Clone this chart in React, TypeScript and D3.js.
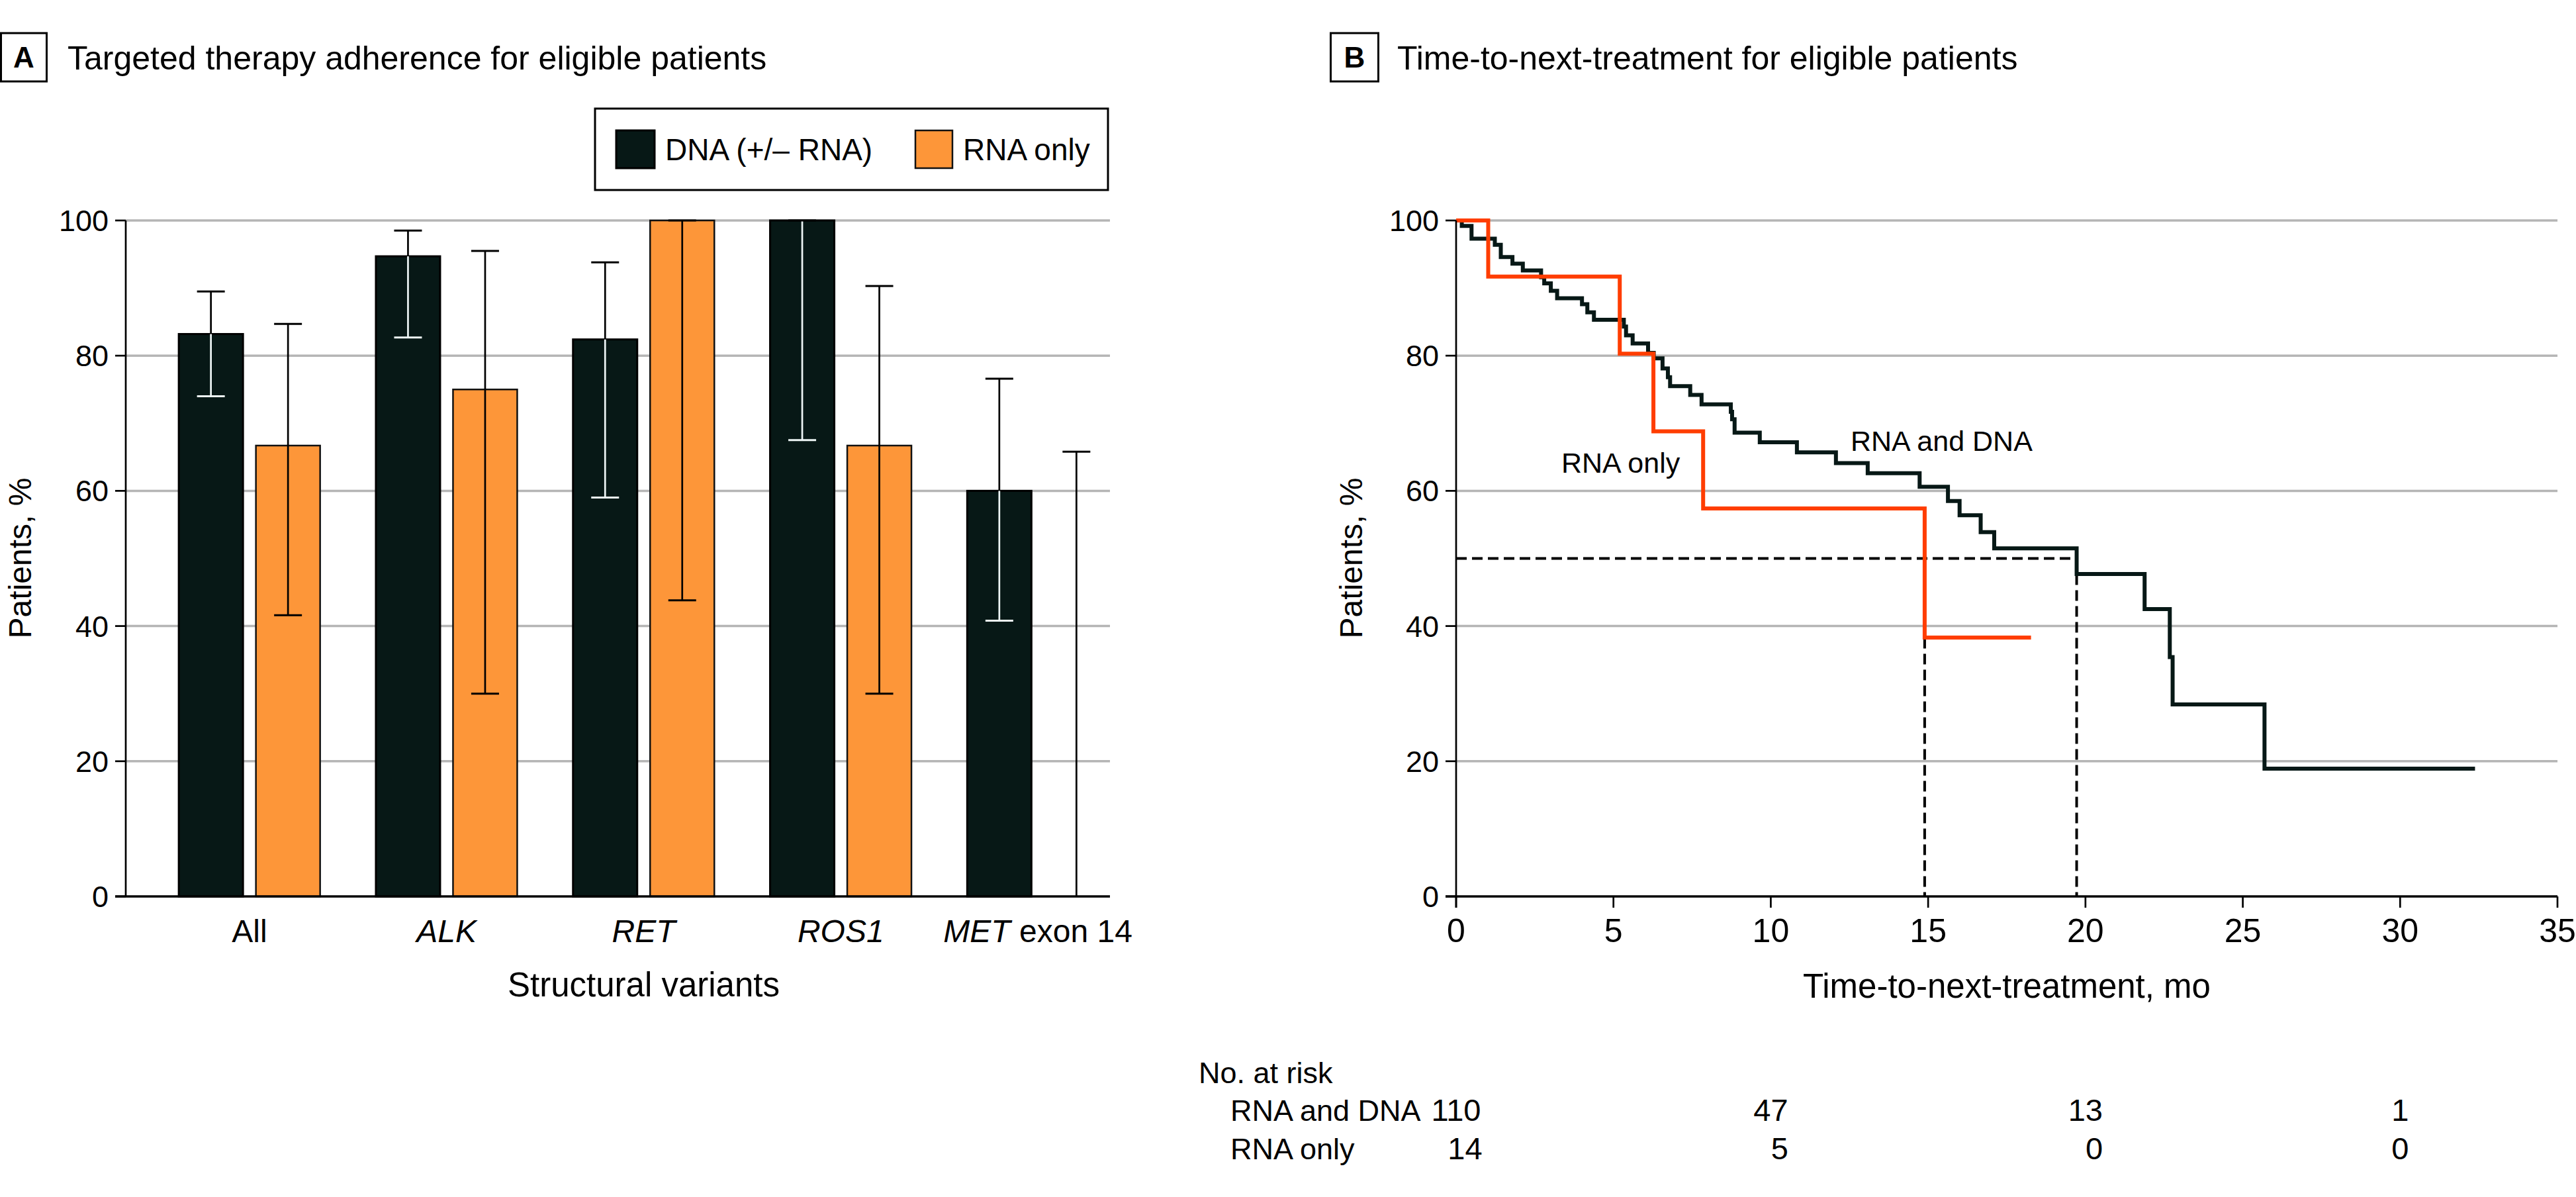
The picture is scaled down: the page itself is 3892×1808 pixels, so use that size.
import React from 'react';
import * as d3 from 'd3';

// Panel A: targeted therapy adherence
const categories = ['All', 'ALK', 'RET', 'ROS1', 'MET exon 14'];
const seriesKeys = ['dna', 'rna'];
const seriesLabels = ['DNA (+/– RNA)', 'RNA only'];
const dnaValues = [83.2, 94.7, 82.4, 100, 60.0];
const dnaLower = [74.0, 82.7, 59.0, 67.5, 40.8];
const dnaUpper = [89.5, 98.5, 93.8, 100, 76.6];
const rnaValues = [66.7, 75.0, 100, 66.7, 0];
const rnaLower = [41.6, 30.0, 43.8, 30.0, 0];
const rnaUpper = [84.7, 95.5, 100, 90.3, 65.8];
const yTicks = [0, 20, 40, 60, 80, 100];

// Panel B: time-to-next-treatment (Kaplan-Meier steps)
const rnaDnaTimes = [0, 0.18, 0.49, 1.23, 1.42, 1.79, 2.12, 2.7, 2.8, 3.01, 3.21, 4.0, 4.17, 4.38, 5.33, 5.4, 5.61, 6.1, 6.28, 6.56, 6.73, 6.8, 7.44, 7.8, 8.73, 8.77, 8.85, 9.65, 10.83, 12.07, 13.08, 14.73, 15.63, 16.0, 16.67, 17.1, 19.72, 21.88, 22.68, 22.77, 25.69];
const rnaDnaSurv = [100, 99.2, 97.3, 96.4, 94.6, 93.6, 92.6, 91.6, 90.7, 89.6, 88.5, 87.6, 86.4, 85.3, 84.3, 83.0, 81.8, 80.4, 79.6, 78.1, 76.8, 75.5, 74.2, 72.8, 71.7, 70.6, 68.6, 67.2, 65.7, 64.1, 62.6, 60.6, 58.5, 56.4, 53.9, 51.5, 47.7, 42.5, 35.4, 28.4, 18.9];
const rnaDnaEnd = 32.38;
const rnaOnlyTimes = [0, 1.02, 5.2, 6.27, 7.85, 14.89];
const rnaOnlySurv = [100, 91.7, 80.3, 68.8, 57.4, 38.3];
const rnaOnlyEnd = 18.27;
const medianRnaDna = 19.72;
const medianRnaOnly = 14.89;
const monthTicks = [0, 5, 10, 15, 20, 25, 30, 35];
const riskTimes = [0, 10, 20, 30];
const riskRnaDna = [110, 47, 13, 1];
const riskRnaOnly = [14, 5, 0, 0];

const FONT = '"Liberation Sans", Arial, "DejaVu Sans", sans-serif';
const DARK = '#071816';
const ORANGE = '#fd9639';
const RED = '#ff3d00';
const GRID = '#b5b5b5';

const italicGenes = new Set(['ALK', 'RET', 'ROS1', 'MET']);

function CategoryLabel({ text, x, y }: { text: string; x: number; y: number }) {
  const parts = text.split(' ');
  return (
    <text x={x} y={y} textAnchor="middle" fontSize={48}>
      {parts.map((p, i) => (
        <tspan key={i} fontStyle={italicGenes.has(p) ? 'italic' : 'normal'}>
          {(i > 0 ? ' ' : '') + p}
        </tspan>
      ))}
    </text>
  );
}

const App = () => {
  // ---------- panel A scales
  const yA = d3.scaleLinear().domain([0, 100]).range([1354, 333]);
  const xA = d3.scaleBand().domain(categories).range([228, 1717]);
  const inner = d3.scaleBand().domain(seriesKeys).range([-106.75, 106.75]).paddingInner(0.1674);
  const bw = inner.bandwidth();
  const axisLeftA = 190;
  const axisRightA = 1677;
  const groupCenter = (c: string) => (xA(c) as number) + xA.bandwidth() / 2;

  const barData = categories.map((c, i) => ({
    cat: c,
    items: [
      { key: 'dna', v: dnaValues[i], lo: dnaLower[i], hi: dnaUpper[i] },
      { key: 'rna', v: rnaValues[i], lo: rnaLower[i], hi: rnaUpper[i] },
    ],
  }));

  // ---------- panel B scales
  const xB = d3.scaleLinear().domain([0, 35]).range([2200, 3864]);
  const yB = d3.scaleLinear().domain([0, 100]).range([1354, 333]);
  const km = d3
    .line<[number, number]>()
    .x((d) => xB(d[0]))
    .y((d) => yB(d[1]))
    .curve(d3.curveStepAfter);
  const dnaPts: [number, number][] = rnaDnaTimes.map((t, i) => [t, rnaDnaSurv[i]]);
  dnaPts.push([rnaDnaEnd, rnaDnaSurv[rnaDnaSurv.length - 1]]);
  const rnaPts: [number, number][] = rnaOnlyTimes.map((t, i) => [t, rnaOnlySurv[i]]);
  rnaPts.push([rnaOnlyEnd, rnaOnlySurv[rnaOnlySurv.length - 1]]);

  return (
    <svg
      width={3892}
      height={1808}
      style={{ position: 'absolute', left: 0, top: 0, background: '#fff' }}
      fontFamily={FONT}
      fill="#000"
    >
      {/* ---------------- Panel A ---------------- */}
      <rect x={1.5} y={50} width={69} height={73} fill="none" stroke="#000" strokeWidth={3} />
      <text x={36} y={102} textAnchor="middle" fontSize={44} fontWeight="bold">A</text>
      <text x={102} y={105} fontSize={50}>Targeted therapy adherence for eligible patients</text>

      {/* legend */}
      <rect x={899} y={164} width={775} height={123} fill="#fff" stroke="#000" strokeWidth={3} />
      <rect x={931} y={197} width={58} height={57} fill={DARK} stroke="#000" strokeWidth={3} />
      <text x={1005} y={242} fontSize={46}>{seriesLabels[0]}</text>
      <rect x={1383} y={197} width={56} height={57} fill={ORANGE} stroke="#111" strokeWidth={2.5} />
      <text x={1455} y={242} fontSize={46}>{seriesLabels[1]}</text>

      {/* grid */}
      {yTicks.filter((t) => t > 0).map((t) => (
        <line key={t} x1={axisLeftA} x2={axisRightA} y1={yA(t)} y2={yA(t)} stroke={GRID} strokeWidth={3.5} />
      ))}

      {/* bars */}
      {barData.map((g) =>
        g.items.map((it) => {
          const x0 = groupCenter(g.cat) + (inner(it.key) as number);
          return (
            <rect
              key={g.cat + it.key}
              x={x0}
              y={yA(it.v)}
              width={bw}
              height={yA(0) - yA(it.v)}
              fill={it.key === 'dna' ? DARK : ORANGE}
              stroke={it.key === 'dna' ? '#000' : '#111'}
              strokeWidth={it.key === 'dna' ? 3 : 2.5}
            />
          );
        })
      )}

      {/* error bars */}
      {barData.map((g) =>
        g.items.map((it) => {
          const cx = groupCenter(g.cat) + (inner(it.key) as number) + bw / 2;
          const inside = it.key === 'dna' ? '#eef6f6' : '#000';
          const topSplit = Math.min(it.hi, it.v);
          return (
            <g key={'e' + g.cat + it.key}>
              {it.hi > it.v && (
                <line x1={cx} x2={cx} y1={yA(it.hi)} y2={yA(it.v)} stroke="#000" strokeWidth={2.7} />
              )}
              <line x1={cx} x2={cx} y1={yA(topSplit)} y2={yA(it.lo)} stroke={inside} strokeWidth={2.7} />
              <line x1={cx - 21} x2={cx + 21} y1={yA(it.hi)} y2={yA(it.hi)} stroke="#000" strokeWidth={3} />
              {it.lo > 0 && (
                <line
                  x1={cx - 21}
                  x2={cx + 21}
                  y1={yA(it.lo)}
                  y2={yA(it.lo)}
                  stroke={it.lo < it.v ? inside : '#000'}
                  strokeWidth={3}
                />
              )}
            </g>
          );
        })
      )}

      {/* axes A */}
      <line x1={axisLeftA} x2={axisLeftA} y1={yA(100)} y2={yA(0)} stroke="#000" strokeWidth={2.7} />
      <line x1={axisLeftA - 16} x2={axisRightA} y1={yA(0)} y2={yA(0)} stroke="#000" strokeWidth={3.5} />
      {yTicks.map((t) => (
        <g key={'ya' + t}>
          <line x1={axisLeftA - 16} x2={axisLeftA} y1={yA(t)} y2={yA(t)} stroke="#000" strokeWidth={2.7} />
          <text x={axisLeftA - 26} y={yA(t) + 16} textAnchor="end" fontSize={45}>{t}</text>
        </g>
      ))}
      {categories.map((c) => (
        <CategoryLabel key={c} text={c} x={groupCenter(c)} y={1423} />
      ))}
      <text x={groupCenter('RET')} y={1505} textAnchor="middle" fontSize={51}>
        Structural variants
      </text>
      <text transform="translate(47,843) rotate(-90)" textAnchor="middle" fontSize={48}>Patients, %</text>

      {/* ---------------- Panel B ---------------- */}
      <rect x={2010.5} y={50} width={72} height={73} fill="none" stroke="#000" strokeWidth={3} />
      <text x={2046.5} y={102} textAnchor="middle" fontSize={44} fontWeight="bold">B</text>
      <text x={2111} y={105} fontSize={50}>Time-to-next-treatment for eligible patients</text>

      {yTicks.filter((t) => t > 0).map((t) => (
        <line key={'gb' + t} x1={xB(0)} x2={xB(35)} y1={yB(t)} y2={yB(t)} stroke={GRID} strokeWidth={3.5} />
      ))}

      {/* median reference lines */}
      <g stroke="#000" strokeWidth={4} strokeDasharray="16 8" fill="none">
        <line x1={xB(0)} x2={xB(medianRnaDna)} y1={yB(50)} y2={yB(50)} />
        <line x1={xB(medianRnaOnly)} x2={xB(medianRnaOnly)} y1={yB(50)} y2={yB(0)} />
        <line x1={xB(medianRnaDna)} x2={xB(medianRnaDna)} y1={yB(50)} y2={yB(0)} />
      </g>

      {/* curves */}
      <path d={km(dnaPts) as string} fill="none" stroke={DARK} strokeWidth={6} />
      <path d={km(rnaPts) as string} fill="none" stroke={RED} strokeWidth={6} />

      <text x={2359} y={714} fontSize={43}>RNA only</text>
      <text x={2796} y={681} fontSize={43}>RNA and DNA</text>

      {/* axes B */}
      <line x1={xB(0)} x2={xB(0)} y1={yB(100)} y2={yB(0) + 17} stroke="#000" strokeWidth={2.7} />
      <line x1={xB(0) - 16} x2={xB(35)} y1={yB(0)} y2={yB(0)} stroke="#000" strokeWidth={3.5} />
      {yTicks.map((t) => (
        <g key={'yb' + t}>
          <line x1={xB(0) - 16} x2={xB(0)} y1={yB(t)} y2={yB(t)} stroke="#000" strokeWidth={2.7} />
          <text x={xB(0) - 26} y={yB(t) + 16} textAnchor="end" fontSize={45}>{t}</text>
        </g>
      ))}
      {monthTicks.map((t) => (
        <g key={'xb' + t}>
          <line x1={xB(t)} x2={xB(t)} y1={yB(0)} y2={yB(0) + 17} stroke="#000" strokeWidth={2.7} />
          <text x={xB(t)} y={1423} textAnchor="middle" fontSize={50}>{t}</text>
        </g>
      ))}
      <text x={(xB(0) + xB(35)) / 2} y={1507} textAnchor="middle" fontSize={51}>
        Time-to-next-treatment, mo
      </text>
      <text transform="translate(2058,843) rotate(-90)" textAnchor="middle" fontSize={48}>Patients, %</text>

      {/* number at risk */}
      <text x={1811} y={1636} fontSize={45}>No. at risk</text>
      <text x={1859} y={1693} fontSize={45}>RNA and DNA</text>
      <text x={1859} y={1751} fontSize={45}>RNA only</text>
      {riskTimes.map((t, i) => (
        <g key={'r' + t}>
          <text x={xB(t)} y={1693} textAnchor="middle" fontSize={47}>{riskRnaDna[i]}</text>
          <text x={xB(t) + String(riskRnaDna[i]).length * 13.2} y={1751} textAnchor="end" fontSize={47}>
            {riskRnaOnly[i]}
          </text>
        </g>
      ))}
    </svg>
  );
};

export default App;
